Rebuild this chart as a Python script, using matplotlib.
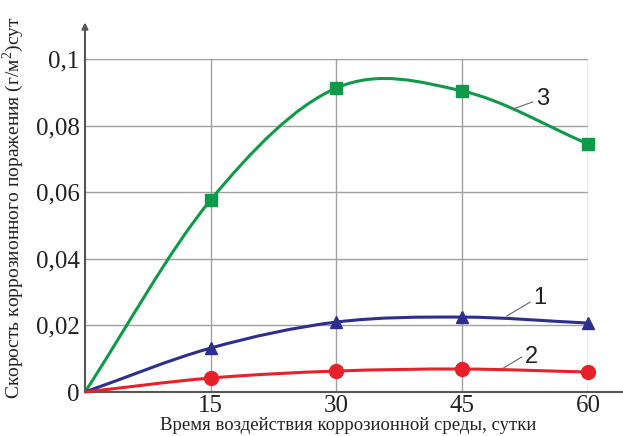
"""Corrosion rate vs. exposure time, three specimens."""

import matplotlib

matplotlib.use("Agg")
import matplotlib.pyplot as plt
from matplotlib.patches import PathPatch
from matplotlib.path import Path

plt.rcParams["font.family"] = ["Liberation Serif", "DejaVu Serif"]
plt.rcParams["mathtext.fontset"] = "custom"
plt.rcParams["mathtext.rm"] = "Liberation Serif"

# --- data ---------------------------------------------------------------
days = [0, 15, 30, 45, 60]
rate_1 = [0.0, 0.0132, 0.0210, 0.0225, 0.0207]
rate_2 = [0.0, 0.0042, 0.0063, 0.0069, 0.0060]
rate_3 = [0.0, 0.0577, 0.0913, 0.0904, 0.0745]

x_ticks = [15, 30, 45, 60]
x_tick_labels = ["15", "30", "45", "60"]
y_ticks = [0, 0.02, 0.04, 0.06, 0.08, 0.1]
y_tick_labels = ["0", "0,02", "0,04", "0,06", "0,08", "0,1"]

GREEN = "#0e9a48"
NAVY = "#2e2e8f"
RED = "#e8202a"
GRID = "#a0a0a0"
AXIS = "#555555"


def smooth_path(xs, ys):
    """Catmull-Rom curve through the points, drawn as cubic Bezier segments."""
    n = len(xs)
    tx, ty = [], []
    for i in range(n):
        a = max(i - 1, 0)
        b = min(i + 1, n - 1)
        k = 1.0 if (i == 0 or i == n - 1) else 0.5
        tx.append((xs[b] - xs[a]) * k)
        ty.append((ys[b] - ys[a]) * k)
    verts = [(xs[0], ys[0])]
    codes = [Path.MOVETO]
    for i in range(n - 1):
        verts += [
            (xs[i] + tx[i] / 3, ys[i] + ty[i] / 3),
            (xs[i + 1] - tx[i + 1] / 3, ys[i + 1] - ty[i + 1] / 3),
            (xs[i + 1], ys[i + 1]),
        ]
        codes += [Path.CURVE4] * 3
    return Path(verts, codes)


fig = plt.figure(figsize=(6.23, 4.36), dpi=100)
ax = fig.add_axes([0.1364, 0.1009, 0.8074, 0.7638])
ax.set_xlim(0, 60)
ax.set_ylim(0, 0.1)

ax.set_xticks(x_ticks)
ax.set_xticklabels(x_tick_labels, family="Liberation Serif")
ax.set_yticks(y_ticks)
ax.set_yticklabels(y_tick_labels, family="Liberation Serif")
ax.tick_params(length=0, labelsize=18, pad=4, colors="#222222")
ax.tick_params(axis="x", pad=2)
ax.grid(True, color=GRID, linewidth=1.0)
ax.set_axisbelow(True)

for side in ("top", "right"):
    ax.spines[side].set_visible(False)
for side in ("left", "bottom"):
    ax.spines[side].set_color(AXIS)
    ax.spines[side].set_linewidth(1.5)

# axis extensions with arrow on the value axis
ax.annotate(
    "", xy=(0, 0.111), xytext=(0, 0.099),
    arrowprops=dict(arrowstyle="-|>", color=AXIS, lw=1.5,
                    mutation_scale=9, shrinkA=0, shrinkB=0),
    annotation_clip=False,
)
ax.plot([60, 64.5], [0, 0], color=AXIS, lw=1.5, clip_on=False)

for ys, color, marker, size in (
    (rate_3, GREEN, "s", 8.5),
    (rate_1, NAVY, "^", 9),
    (rate_2, RED, "o", 10),
):
    ax.add_patch(PathPatch(smooth_path(days, ys), facecolor="none",
                           edgecolor=color, lw=2.2, clip_on=False, zorder=3))
    ax.plot(days[1:], ys[1:], linestyle="none", marker=marker,
            markersize=size, color=color, clip_on=False, zorder=4)

# curve numbers with leader lines
for num, (x0, y0), (x1, y1), (tx, ty) in (
    ("3", (51.1, 0.0850), (53.4, 0.0871), (54.6, 0.0880)),
    ("1", (50.3, 0.0228), (53.1, 0.0270), (54.3, 0.0283)),
    ("2", (49.9, 0.0072), (52.1, 0.0105), (53.3, 0.0105)),
):
    ax.plot([x0, x1], [y0, y1], color="#666666", lw=0.8, zorder=5)
    ax.text(tx, ty, num, fontsize=17, ha="center", va="center",
            color="#222222", family=["Liberation Sans"], zorder=5)

ax.set_ylabel("Скорость коррозионного поражения (г/м$^{2}$)сут",
              fontsize=14, color="#222222")
ax.yaxis.set_label_coords(-0.118, 0.553)
ax.set_xlabel("Время воздействия коррозионной среды, сутки",
              fontsize=13.5, color="#222222")
ax.xaxis.set_label_coords(0.523, -0.075)

fig.savefig("out.png", dpi=100)
